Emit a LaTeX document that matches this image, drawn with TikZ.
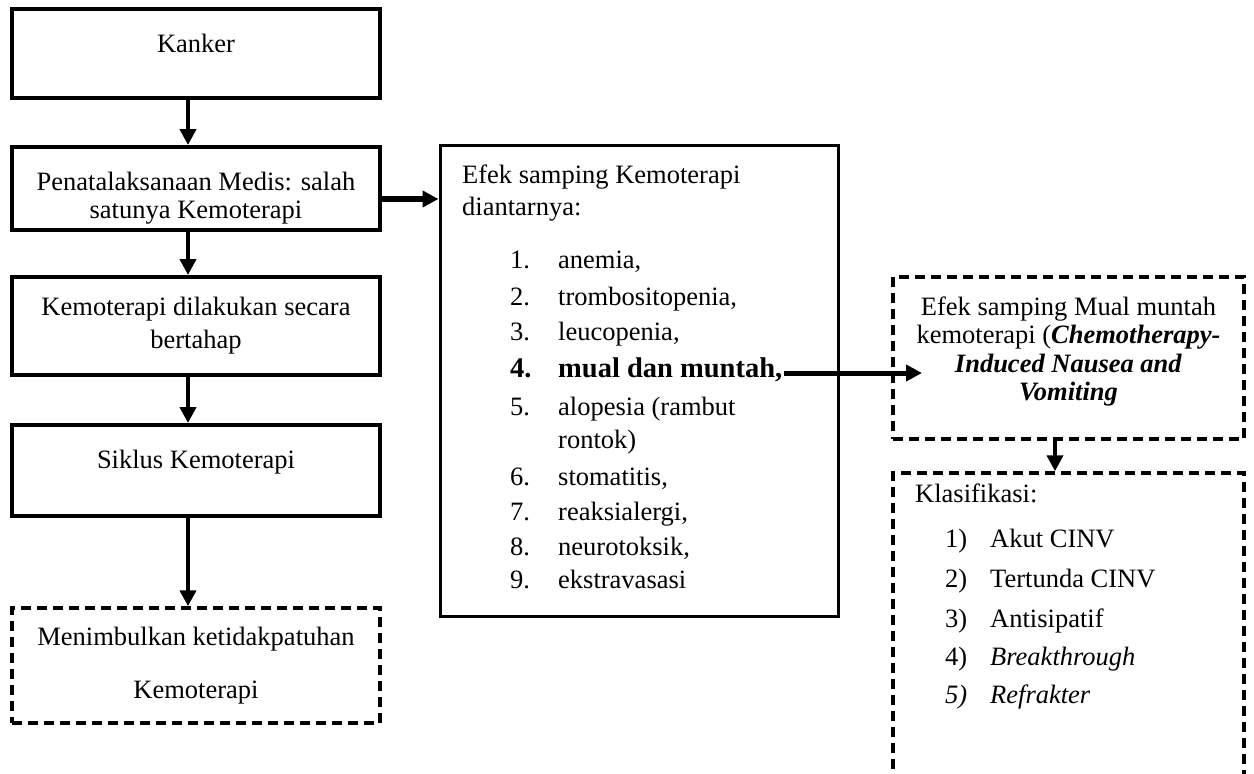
\documentclass[tikz,border=0pt]{standalone}
\usepackage{fontspec}
\setmainfont{Liberation Serif}
\usetikzlibrary{arrows.meta}
\begin{document}
\begin{tikzpicture}[x=1pt,y=-1pt,
  box/.style={draw=black,line width=4pt,inner sep=0pt,minimum width=368pt},
  dbox/.style={box,line width=3.5pt,dash pattern=on 10pt off 6pt},
  txt/.style={inner sep=0pt,anchor=base,font=\fontsize{26.5}{28}\selectfont},
  ltxt/.style={txt,anchor=base west},
  btxt/.style={ltxt,font=\fontsize{28.5}{30}\selectfont\bfseries},
  arr/.style={line width=4.5pt,-{Triangle[length=16pt,width=16pt]}}
]
\useasboundingbox[fill=white] (0,0) rectangle (1254,774);
% left column boxes
\node[box,minimum height=89pt] (kanker) at (196,53.5) {};
\node[box,minimum height=83pt] (pen) at (196,188.5) {};
\node[box,minimum height=98pt] (kemo) at (196,326) {};
\node[box,minimum height=91pt] (siklus) at (196,470.5) {};
\node[dbox,minimum height=115pt] (menim) at (196,665.5) {};
% middle box
\node[box,line width=3pt,minimum width=398pt,minimum height=471pt] (efek) at (639,380.5) {};
% right boxes
\node[dbox,minimum width=351pt,minimum height=162pt] (mual) at (1068.5,358) {};
\node[dbox,minimum width=351pt,minimum height=340pt] (klas) at (1068.5,643) {};
% texts left
\node[txt] (t1) at (196,52) {Kanker};
\node[txt] (t2) at (196,190) {Penatalaksanaan Medis: salah};
\node[txt] (t3) at (196,218) {satunya Kemoterapi};
\node[txt] (t4) at (196,315) {Kemoterapi dilakukan secara};
\node[txt] (t5) at (196,348) {bertahap};
\node[txt] (t6) at (196,468) {Siklus Kemoterapi};
\node[txt] (t7) at (196,645) {Menimbulkan ketidakpatuhan};
\node[txt] (t8) at (196,698) {Kemoterapi};
% texts middle
\node[ltxt] (e0) at (462,183) {Efek samping Kemoterapi};
\node[ltxt] (e00) at (462,215) {diantarnya:};
\node[ltxt] (n1) at (510,268) {1.};  \node[ltxt] (i1) at (558,268) {anemia,};
\node[ltxt] (n2) at (510,305) {2.};  \node[ltxt] (i2) at (558,305) {trombositopenia,};
\node[ltxt] (n3) at (510,340) {3.};  \node[ltxt] (i3) at (558,340) {leucopenia,};
\node[btxt] (n4) at (510,377) {4.};
\node[btxt] (i4) at (558,377) {mual dan muntah,};
\node[ltxt] (n5) at (510,415) {5.};  \node[ltxt] (i5) at (558,415) {alopesia (rambut};
\node[ltxt] (i5b) at (558,448) {rontok)};
\node[ltxt] (n6) at (510,485) {6.};  \node[ltxt] (i6) at (558,485) {stomatitis,};
\node[ltxt] (n7) at (510,520) {7.};  \node[ltxt] (i7) at (558,520) {reaksialergi,};
\node[ltxt] (n8) at (510,555) {8.};  \node[ltxt] (i8) at (558,555) {neurotoksik,};
\node[ltxt] (n9) at (510,588) {9.};  \node[ltxt] (i9) at (558,588) {ekstravasasi};
% texts right top
\node[txt] (m1) at (1068.5,315) {Efek samping Mual muntah};
\node[txt] (m2) at (1068.5,343) {kemoterapi (\textbf{\textit{Chemotherapy-}}};
\node[txt] (m3) at (1068.5,372) {\textbf{\textit{Induced Nausea and}}};
\node[txt] (m4) at (1068.5,400) {\textbf{\textit{Vomiting}}};
% texts right bottom
\node[ltxt] (k0) at (915,502) {Klasifikasi:};
\node[ltxt] (kn1) at (945,547) {1)};  \node[ltxt] (k1) at (990,547) {Akut CINV};
\node[ltxt] (kn2) at (945,587) {2)};  \node[ltxt] (k2) at (990,587) {Tertunda CINV};
\node[ltxt] (kn3) at (945,627) {3)};  \node[ltxt] (k3) at (990,627) {Antisipatif};
\node[ltxt] (kn4) at (945,665) {4)};  \node[ltxt] (k4) at (990,665) {\textit{Breakthrough}};
\node[ltxt] (kn5) at (945,703) {\textit{5)}};  \node[ltxt] (k5) at (990,703) {\textit{Refrakter}};
% arrows
\draw[arr] ([xshift=-8pt]kanker.south) -- ([xshift=-8pt]pen.north);
\draw[arr] ([xshift=-8pt]pen.south) -- ([xshift=-8pt]kemo.north);
\draw[arr] ([xshift=-8pt]kemo.south) -- ([xshift=-8pt]siklus.north);
\draw[arr] ([xshift=-8pt]siklus.south) -- ([xshift=-8pt]menim.north);
\coordinate (p1) at ([yshift=-10.5pt]pen.east);
\draw[arr,line width=6pt] (p1) -- (p1 -| efek.west);
\coordinate (mtip) at (922,373);
\draw[arr,line width=5pt] ([xshift=1pt]i4.east |- mtip) -- (mtip);
\draw[arr] ([xshift=-13.5pt]mual.south) -- ([xshift=-13.5pt]klas.north);
\end{tikzpicture}
\end{document}
